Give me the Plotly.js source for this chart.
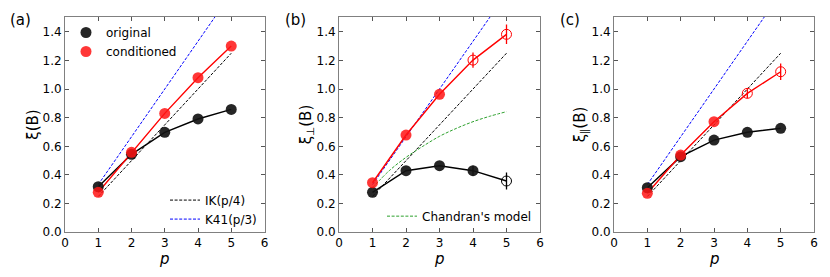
<!DOCTYPE html>
<html>
<head>
<meta charset="utf-8">
<script src="https://cdn.plot.ly/plotly-3.0.1.min.js"></script>
<style>html,body{margin:0;padding:0;background:#fff}#chart{width:830px;height:277px}</style>
</head>
<body>
<div id="chart"></div>
<script>
// ---- data ----
var p = [1, 2, 3, 4, 5];

// panel (a): xi(B)
var aOriginal = [0.318, 0.544, 0.698, 0.791, 0.858];
var aConditioned = [0.279, 0.558, 0.830, 1.079, 1.300];

// panel (b): xi_perp(B)
var bOriginal = [0.279, 0.430, 0.465, 0.430, 0.358];
var bOriginalErr = [0, 0, 0, 0.035, 0.06];
var bConditioned = [0.346, 0.679, 0.963, 1.202, 1.382];
var bConditionedErr = [0, 0, 0, 0.053, 0.068];

// panel (c): xi_par(B)
var cOriginal = [0.311, 0.528, 0.644, 0.698, 0.726];
var cConditioned = [0.272, 0.539, 0.772, 0.970, 1.121];
var cConditionedErr = [0, 0, 0, 0.035, 0.058];

// reference scalings
var refP = [1, 5];
var IK = [0.25, 1.25];
var K41 = [0.3333, 1.6667];

// Chandran's model (panel b)
var chandranP = [1, 1.5, 2, 2.5, 3, 3.5, 4, 4.5, 5];
var chandranXi = [0.31, 0.43, 0.523, 0.60, 0.67, 0.725, 0.772, 0.81, 0.842];

// ---- styles ----
var RED = 'rgba(255,20,20,0.85)';
var BLK = 'rgba(20,20,20,0.92)';
var MS = 11;
var DASH = '3px,1.6px';

function lineTrace(x, y, color, xa, ya) {
  return {x: x, y: y, mode: 'lines', line: {color: color, width: 1.4},
          xaxis: xa, yaxis: ya, showlegend: false, hoverinfo: 'skip'};
}
function markerTrace(x, y, color, xa, ya, opts) {
  opts = opts || {};
  var t = {x: x, y: y, mode: 'markers', xaxis: xa, yaxis: ya,
           marker: {color: color, size: MS, line: {width: 0}},
           showlegend: !!opts.name};
  if (opts.name) { t.name = opts.name; t.legend = opts.legend; }
  return t;
}
function openMarkers(x, y, err, color, xa, ya) {
  return {x: x, y: y, mode: 'markers', xaxis: xa, yaxis: ya, showlegend: false,
          marker: {symbol: 'circle-open', size: MS - 1, color: color, line: {width: 1, color: color}},
          error_y: {type: 'data', array: err, visible: true, color: color, thickness: 1.3, width: 0}};
}
function pick(arr, idx) { return idx.map(function (i) { return arr[i]; }); }
function dash(x, y, color, xa, ya, name, legend) {
  var t = {x: x, y: y, mode: 'lines', line: {color: color, width: 1, dash: DASH},
           xaxis: xa, yaxis: ya, showlegend: !!name};
  if (name) { t.name = name; t.legend = legend; }
  return t;
}

var traces = [];
// panel a
traces.push(dash(refP, IK, 'black', 'x', 'y', 'IK(p/4)', 'legend2'));
traces.push(dash(refP, K41, 'blue', 'x', 'y', 'K41(p/3)', 'legend2'));
traces.push(lineTrace(p, aOriginal, 'black', 'x', 'y'));
traces.push(lineTrace(p, aConditioned, 'red', 'x', 'y'));
traces.push(markerTrace(p, aOriginal, BLK, 'x', 'y', {name: 'original', legend: 'legend'}));
traces.push(markerTrace(p, aConditioned, RED, 'x', 'y', {name: 'conditioned', legend: 'legend'}));

// panel b
traces.push(dash(refP, IK, 'black', 'x2', 'y2'));
traces.push(dash(refP, K41, 'blue', 'x2', 'y2'));
var chand = dash(chandranP, chandranXi, '#2ca02c', 'x2', 'y2', "Chandran's model", 'legend3');
chand.line.shape = 'spline';
traces.push(chand);
traces.push(lineTrace(p, bOriginal, 'black', 'x2', 'y2'));
traces.push(lineTrace(p, bConditioned, 'red', 'x2', 'y2'));
var bf = markerTrace(pick(p, [0, 1, 2, 3]), pick(bOriginal, [0, 1, 2, 3]), BLK, 'x2', 'y2');
bf.error_y = {type: 'data', array: pick(bOriginalErr, [0, 1, 2, 3]), visible: true, color: 'black', thickness: 1.3, width: 0};
traces.push(bf);
traces.push(openMarkers(pick(p, [4]), pick(bOriginal, [4]), pick(bOriginalErr, [4]), 'black', 'x2', 'y2'));
traces.push(markerTrace(pick(p, [0, 1, 2]), pick(bConditioned, [0, 1, 2]), RED, 'x2', 'y2'));
traces.push(openMarkers(pick(p, [3, 4]), pick(bConditioned, [3, 4]), pick(bConditionedErr, [3, 4]), 'red', 'x2', 'y2'));

// panel c
traces.push(dash(refP, IK, 'black', 'x3', 'y3'));
traces.push(dash(refP, K41, 'blue', 'x3', 'y3'));
traces.push(lineTrace(p, cOriginal, 'black', 'x3', 'y3'));
traces.push(lineTrace(p, cConditioned, 'red', 'x3', 'y3'));
traces.push(markerTrace(p, cOriginal, BLK, 'x3', 'y3'));
traces.push(markerTrace(pick(p, [0, 1, 2]), pick(cConditioned, [0, 1, 2]), RED, 'x3', 'y3'));
traces.push(openMarkers(pick(p, [3, 4]), pick(cConditioned, [3, 4]), pick(cConditionedErr, [3, 4]), 'red', 'x3', 'y3'));

var FONT = 'DejaVu Sans, sans-serif';
function xax(dom, anchor) {
  return {domain: dom, anchor: anchor, range: [0, 6], tickvals: [0, 1, 2, 3, 4, 5, 6],
          ticks: 'inside', ticklen: 4, tickcolor: '#555', showline: true, linecolor: '#808080', linewidth: 1,
          mirror: 'ticks', showgrid: false, zeroline: false, tickfont: {size: 12, color: 'black'},
          ticklabelstandoff: -1};
}
function yax(title, anchor) {
  return {domain: [0.1614, 0.9397], anchor: anchor, range: [0, 1.505], tickvals: [0, 0.2, 0.4, 0.6, 0.8, 1.0, 1.2, 1.4],
          tickformat: '.1f', ticks: 'inside', ticklen: 4, tickcolor: '#555', showline: true, linecolor: '#808080', linewidth: 1,
          mirror: 'ticks', showgrid: false, zeroline: false, tickfont: {size: 12, color: 'black'},
          title: {text: title, font: {size: 15, color: 'black'}, standoff: 0}};
}

var xTitleY = 1 - 249 / 277;
var layout = {
  width: 830, height: 277,
  margin: {l: 0, r: 0, t: 0, b: 0},
  paper_bgcolor: 'white', plot_bgcolor: 'white',
  font: {family: FONT, color: 'black'},
  xaxis: xax([65 / 830, 264.5 / 830], 'y'),
  yaxis: yax('ξ(B)', 'x'),
  xaxis2: xax([339 / 830, 540 / 830], 'y2'),
  yaxis2: yax('ξ<sub>⊥</sub>(B)', 'x2'),
  xaxis3: xax([614 / 830, 814 / 830], 'y3'),
  yaxis3: yax('ξ<sub>∥</sub>(B)', 'x3'),
  legend: {x: 66 / 830, y: 0.935, xanchor: 'left', yanchor: 'top', bgcolor: 'rgba(0,0,0,0)',
           font: {size: 12}, itemwidth: 30, tracegroupgap: 0},
  legend2: {x: 262 / 830, y: 0.33, xanchor: 'right', yanchor: 'top', bgcolor: 'rgba(0,0,0,0)',
            font: {size: 12}, itemwidth: 30},
  legend3: {x: 537 / 830, y: 0.272, xanchor: 'right', yanchor: 'top', bgcolor: 'rgba(0,0,0,0)',
            font: {size: 12}, itemwidth: 30},
  annotations: [
    {text: '(a)', xref: 'paper', yref: 'paper', x: 8 / 830, y: 1 - 20 / 277, xanchor: 'left', yanchor: 'middle', showarrow: false, font: {size: 15}},
    {text: '(b)', xref: 'paper', yref: 'paper', x: 283 / 830, y: 1 - 20 / 277, xanchor: 'left', yanchor: 'middle', showarrow: false, font: {size: 15}},
    {text: '(c)', xref: 'paper', yref: 'paper', x: 558 / 830, y: 1 - 20 / 277, xanchor: 'left', yanchor: 'middle', showarrow: false, font: {size: 15}},
    {text: '<i>p</i>', xref: 'paper', yref: 'paper', x: 164.75 / 830, y: xTitleY, xanchor: 'center', yanchor: 'top', showarrow: false, font: {size: 15}, borderpad: 0},
    {text: '<i>p</i>', xref: 'paper', yref: 'paper', x: 439.5 / 830, y: xTitleY, xanchor: 'center', yanchor: 'top', showarrow: false, font: {size: 15}, borderpad: 0},
    {text: '<i>p</i>', xref: 'paper', yref: 'paper', x: 714 / 830, y: xTitleY, xanchor: 'center', yanchor: 'top', showarrow: false, font: {size: 15}, borderpad: 0}
  ]
};

Plotly.newPlot('chart', traces, layout, {displayModeBar: false, staticPlot: true});
</script>
</body>
</html>
